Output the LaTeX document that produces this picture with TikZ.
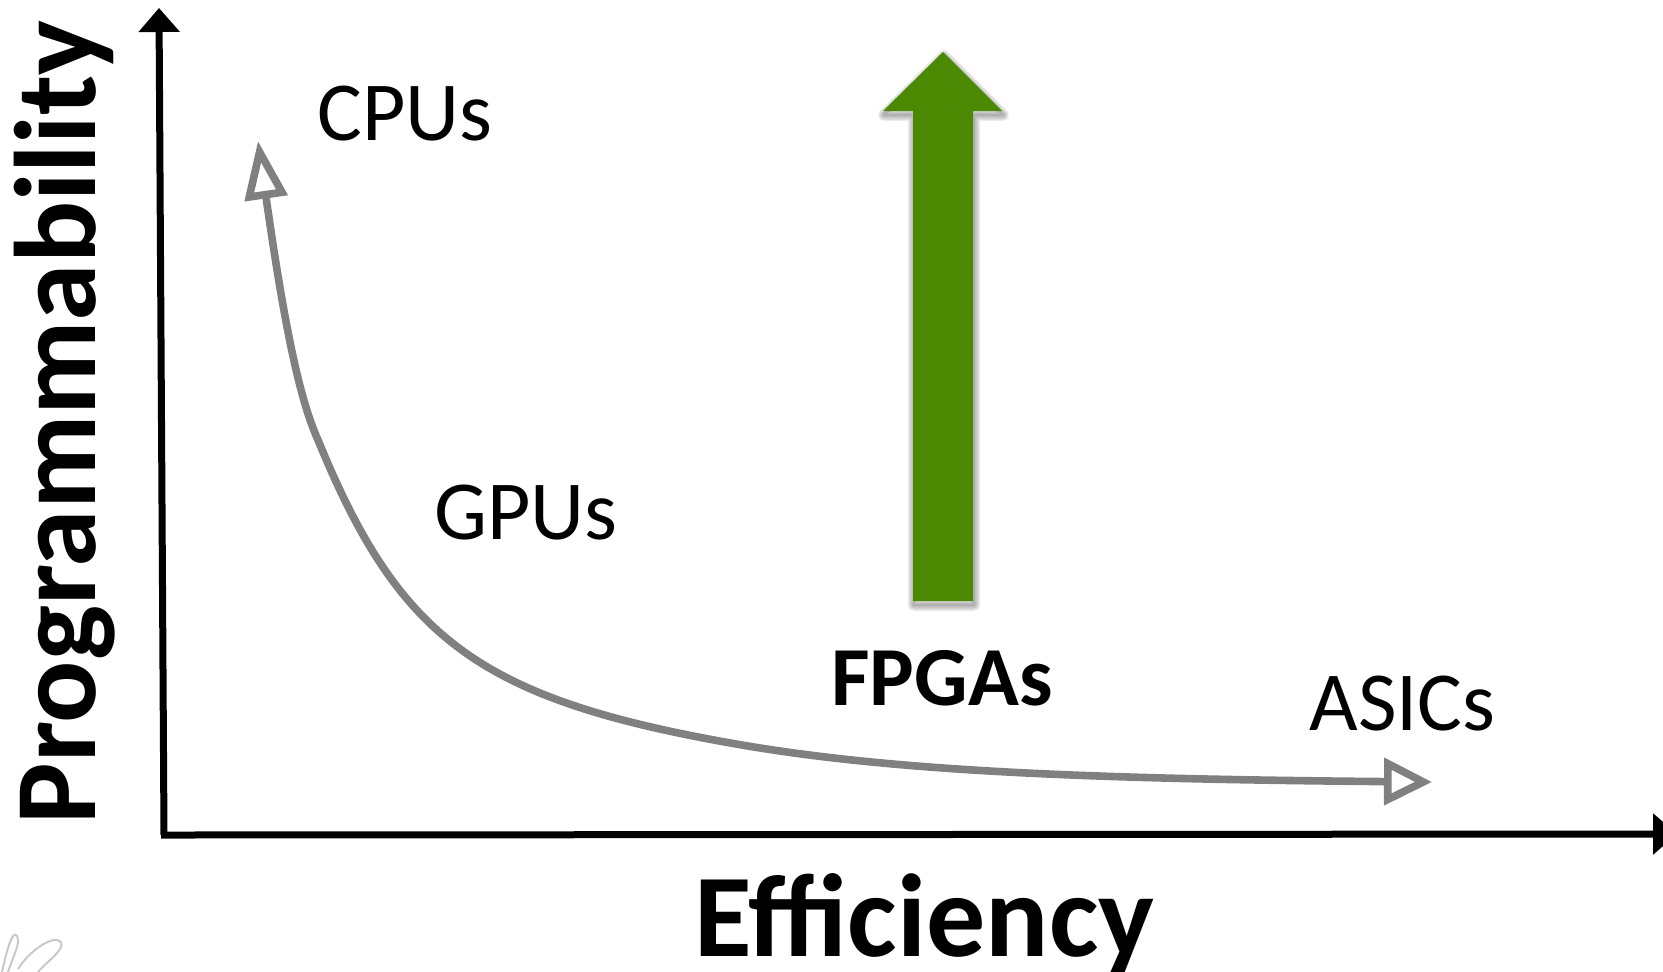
\documentclass[tikz,border=0pt]{standalone}
\usepackage{fontspec}
\setmainfont{Carlito}
\usetikzlibrary{arrows.meta}
\definecolor{curvegray}{RGB}{128,128,128}
\definecolor{fpgagreen}{RGB}{76,137,2}
\definecolor{logogray}{RGB}{200,200,200}
\tikzset{
  axis/.style={line width=3.5pt, draw=black,
    -{Triangle[length=12pt,width=20pt]}},
  label/.style={inner sep=0pt, anchor=base west, font=\fontsize{42}{50}\selectfont},
  title/.style={inner sep=0pt, anchor=base west, font=\bfseries\fontsize{59}{68}\selectfont},
  tradeoff/.style={line width=3.8pt, draw=curvegray,
    {Triangle[open,length=29pt,width=21pt,fill=white]}-{Triangle[open,length=24pt,width=23pt,fill=white]}},
  logo/.style={draw=logogray, line width=1pt},
}
\begin{document}
\begin{tikzpicture}[x=0.5pt,y=-0.5pt]
\useasboundingbox (0,0) rectangle (1663,971);
\clip (0,0) rectangle (1663,971);

% axes
\coordinate (origin) at (164,835);
\coordinate (ytop) at (159,8);
\coordinate (xend) at (1677,834);
\draw[axis] (origin) -- (ytop);
\draw[axis] ([xshift=-1.5pt]origin) -- (xend);

% axis titles
\node[title] (eff) at (694,956) {Efficiency};
\node[title, rotate=90, font=\bfseries\fontsize{58}{66}\selectfont] (prog) at (95,825) {Programmability};

% device labels
\node[label] (cpu) at (317,140) {CPUs};
\node[label] (gpu) at (434,539) {GPUs};
\node[label, font=\bfseries\fontsize{42}{50}\selectfont] (fpga) at (831,705) {FPGAs};
\node[label] (asic) at (1309,730) {ASICs};

% trade-off curve
\coordinate (ctop) at (258,141);
\coordinate (cend) at (1432,782);
\draw[tradeoff] (ctop) .. controls (285,330) and (300,400) .. (318,440)
  .. controls (400,640) and (480,700) .. (742,745)
  .. controls (900,772) and (1100,779) .. (cend);

% green arrow with soft shadow
\def\fpgaarrow{(913,601) -- (973,601) -- (973,111) -- (1002,111) -- (943,52) -- (883,111) -- (913,111) -- cycle}
\foreach \w in {1,2,3,4,5} {
  \draw[black, opacity=0.07, line width=\w*1.2pt, line join=round, yshift=-2pt, xshift=0.5pt] \fpgaarrow;
}
\fill[fpgagreen] \fpgaarrow;

% corner emblem
\draw[logo] (2,972) .. controls (8,945) and (13,930) .. (17,936)
  .. controls (21,943) and (13,956) .. (8,972);
\draw[logo] (18,969) .. controls (30,950) and (54,934) .. (61,942)
  .. controls (65,950) and (46,962) .. (38,972);
\end{tikzpicture}
\end{document}
